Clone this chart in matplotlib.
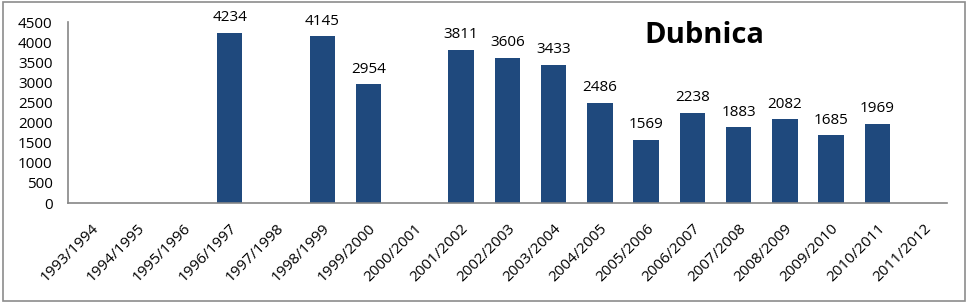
import numpy as np
import matplotlib.pyplot as plt
from matplotlib.patches import Rectangle

# -----------------------------
# Data
# -----------------------------

seasons = [
    "1993/1994", "1994/1995", "1995/1996", "1996/1997", "1997/1998",
    "1998/1999", "1999/2000", "2000/2001", "2001/2002", "2002/2003",
    "2003/2004", "2004/2005", "2005/2006", "2006/2007", "2007/2008",
    "2008/2009", "2009/2010", "2010/2011", "2011/2012",
]
values = [
    None, None, None, 4234, None,
    4145, 2954, None, 3811, 3606,
    3433, 2486, 1569, 2238, 1883,
    2082, 1685, 1969, None,
]
title = "Dubnica"
yticks = [0, 500, 1000, 1500, 2000, 2500, 3000, 3500, 4000, 4500]

# -----------------------------
# Plot
# -----------------------------

plt.rcParams["font.family"] = ["Open Sans", "DejaVu Sans"]

fig = plt.figure(figsize=(9.69, 3.03), dpi=100)
ax = fig.add_axes([0.070, 0.330, 0.907, 0.597])

x = np.arange(len(seasons))
heights = [v if v is not None else 0 for v in values]
bars = ax.bar(x, heights, width=0.55, color="#1f497d")

for xi, v in zip(x, values):
    if v is not None:
        ax.text(xi, v + 190, str(v), ha="center", va="bottom", fontsize=11)

ax.set_xlim(-0.5, len(seasons) - 0.5)
ax.set_ylim(0, 4500)
ax.set_yticks(yticks)
ax.set_xticks(x)
ax.set_xticklabels(seasons, rotation=45, ha="right", rotation_mode="anchor", fontsize=11)
ax.tick_params(axis="both", length=0, labelsize=11)
ax.tick_params(axis="x", pad=13)
ax.tick_params(axis="y", pad=11)

for side in ["top", "right"]:
    ax.spines[side].set_visible(False)
for side in ["left", "bottom"]:
    ax.spines[side].set_color("#868686")
    ax.spines[side].set_linewidth(1.2)

fig.text(0.727, 0.884, title, ha="center", va="center", fontsize=21, fontweight="bold")

fig.add_artist(Rectangle((0.003, 0.008), 0.993, 0.984, transform=fig.transFigure,
                         fill=False, edgecolor="#8c8c8c", linewidth=1.2))

fig.savefig("out.png", dpi=100)
